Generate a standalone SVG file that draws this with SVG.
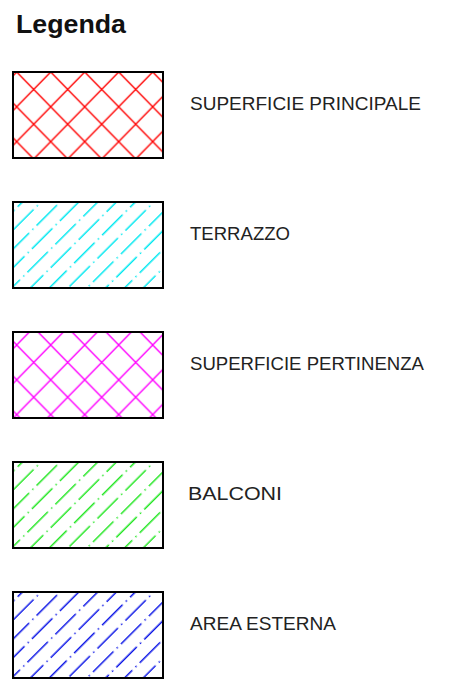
<svg xmlns="http://www.w3.org/2000/svg" width="467" height="687" viewBox="0 0 467 687">
<style>
.box{stroke:#000;stroke-width:2;}
.lbl{font-family:"Liberation Sans",Arial,sans-serif;font-size:17.5px;fill:#222;}
.title{font-family:"Liberation Sans",Arial,sans-serif;font-size:25px;font-weight:bold;fill:#111;}
.hx{stroke-width:1.5;stroke-dasharray:29 4.5 1.5 4.5;fill:none;}
</style>
<defs>
<pattern id="pRed" patternUnits="userSpaceOnUse" x="16.7" y="72" width="34" height="34.8">
<path d="M0 0L34 34.8M34 0L0 34.8" stroke="#FF0000" stroke-width="1.4" fill="none"/>
</pattern>
<pattern id="pMag" patternUnits="userSpaceOnUse" x="16.7" y="345" width="34" height="34.8">
<path d="M0 0L34 34.8M34 0L0 34.8" stroke="#FF00FF" stroke-width="1.4" fill="none"/>
</pattern>
<pattern id="pCyan" patternUnits="userSpaceOnUse" width="39.5" height="26.6" patternTransform="translate(13 202) rotate(-45)">
<path class="hx" d="M-39.5 6.65H79" stroke="#00E8F0"/>
<path class="hx" d="M-19.75 19.95H98.75" stroke="#00E8F0"/>
</pattern>
<pattern id="pGreen" patternUnits="userSpaceOnUse" width="39.5" height="26.6" patternTransform="translate(13 462) rotate(-45)">
<path class="hx" d="M-39.5 6.65H79" stroke="#22E622"/>
<path class="hx" d="M-19.75 19.95H98.75" stroke="#22E622"/>
</pattern>
<pattern id="pBlue" patternUnits="userSpaceOnUse" width="39.5" height="26.6" patternTransform="translate(13 592) rotate(-45)">
<path class="hx" d="M-39.5 6.65H79" stroke="#0A14E6"/>
<path class="hx" d="M-19.75 19.95H98.75" stroke="#0A14E6"/>
</pattern>
</defs>
<text class="title" x="16" y="33" textLength="110" lengthAdjust="spacingAndGlyphs">Legenda</text>
<g id="superficie-principale">
<rect class="box" x="13" y="72" width="150" height="86" fill="url(#pRed)"/>
<text class="lbl" x="190" y="110" textLength="231" lengthAdjust="spacingAndGlyphs">SUPERFICIE PRINCIPALE</text>
</g>
<g id="terrazzo">
<rect class="box" x="13" y="202" width="150" height="86" fill="url(#pCyan)"/>
<text class="lbl" x="190" y="240" textLength="100" lengthAdjust="spacingAndGlyphs">TERRAZZO</text>
</g>
<g id="superficie-pertinenza">
<rect class="box" x="13" y="332" width="150" height="86" fill="url(#pMag)"/>
<text class="lbl" x="190" y="370" textLength="234" lengthAdjust="spacingAndGlyphs">SUPERFICIE PERTINENZA</text>
</g>
<g id="balconi">
<rect class="box" x="13" y="462" width="150" height="86" fill="url(#pGreen)"/>
<text class="lbl" x="188" y="500" textLength="94" lengthAdjust="spacingAndGlyphs">BALCONI</text>
</g>
<g id="area-esterna">
<rect class="box" x="13" y="592" width="150" height="86" fill="url(#pBlue)"/>
<text class="lbl" x="190" y="630" textLength="146" lengthAdjust="spacingAndGlyphs">AREA ESTERNA</text>
</g>
<g id="connectors"/>
</svg>
